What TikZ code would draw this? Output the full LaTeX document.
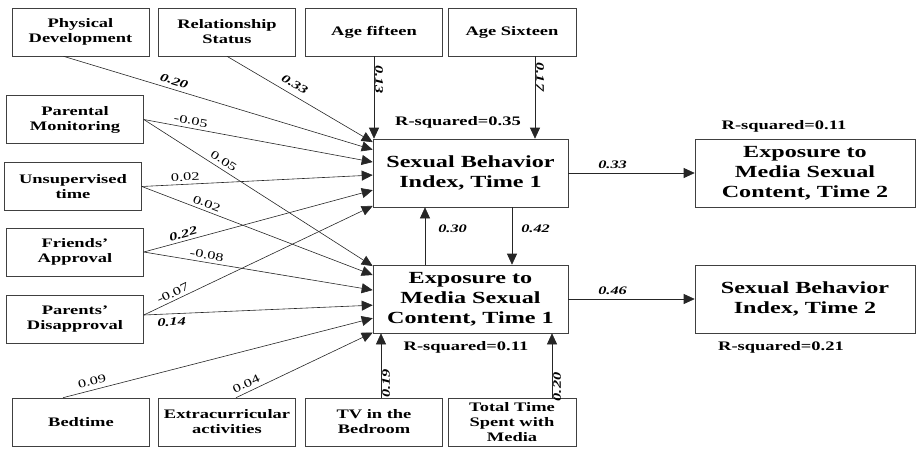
\documentclass[tikz,border=0pt]{standalone}
\usepackage{fontspec}
\setmainfont[FakeStretch=1.42]{Liberation Serif}
\usepackage{tikz}
\usetikzlibrary{positioning,arrows.meta,calc}
\newcommand\boxfont{\fontsize{13}{15}\selectfont\bfseries}
\newcommand\bigfont{\fontsize{17}{20}\selectfont\bfseries}
\tikzset{
  link/.style={-{Triangle[length=11pt,width=10pt]}, line width=0.6pt, draw=black!85},
  every node/.style={anchor=center}
}

\begin{document}
\begin{tikzpicture}[
    x=1pt, y=-1pt,
    box/.style={draw=black!75, line width=0.6pt, minimum width=137pt, minimum height=48pt,
      align=center, inner sep=2pt, font=\boxfont},
    bigbox/.style={box, minimum width=195pt, minimum height=68pt, font=\bigfont},
    coef/.style={font=\fontsize{11.5}{13}\selectfont\bfseries\itshape, inner sep=1pt},
    wcoef/.style={font=\fontsize{11.5}{13}\selectfont, inner sep=1pt},
    rsq/.style={font=\boxfont, inner sep=1pt}
  ]
  \useasboundingbox (0,0) rectangle (918,450);

  % top row
  \node[box] (phys)    at (80.5,32) {Physical\\Development};
  \node[box] (rel)     at (227,32)  {Relationship\\Status};
  \node[box] (agefift) at (374,32)  {Age fifteen};
  \node[box, minimum width=128pt] (agesix) at (512,32) {Age Sixteen};

  % left column
  \node[box] (parmon)  at (75,119.5) {Parental\\Monitoring};
  \node[box] (unsup)   at (73,186.5) {Unsupervised\\time};
  \node[box] (friends) at (75,252)   {Friends'\\Approval};
  \node[box] (parents) at (75,319)   {Parents'\\Disapproval};

  % bottom row
  \node[box] (bed)     at (81,422)  {Bedtime};
  \node[box] (extra)   at (227,422) {Extracurricular\\activities};
  \node[box] (tv)      at (374,422) {TV in the\\Bedroom};
  \node[box, minimum width=128pt] (total) at (512,422) {Total Time\\Spent with\\Media};

  % outcome boxes
  \node[bigbox] (sbone)  at (470.5,173) {Sexual Behavior\\Index, Time 1};
  \node[bigbox] (expone) at (470.5,299) {Exposure to\\Media Sexual\\Content, Time 1};
  \node[bigbox, minimum width=220pt] (exptwo) at (805,173) {Exposure to\\Media Sexual\\Content, Time 2};
  \node[bigbox, minimum width=220pt] (sbtwo)  at (805,299) {Sexual Behavior\\Index, Time 2};

  % r-squared
  \node[rsq] (rsbone)  at (458,122) {R-squared=0.35};
  \node[rsq] (rexptwo) at (784,126) {R-squared=0.11};
  \node[rsq] (rexpone) at (466,347) {R-squared=0.11};
  \node[rsq] (rsbtwo)  at (781,347) {R-squared=0.21};

  % paths into sexual behavior, time 1
  \draw[link] (rel.south) -- node[coef, pos=.43, sloped, above=5pt] {0.33}
    ($(sbone.north west)!.05!(sbone.south west)$);
  \draw[link] ([xshift=-17pt]phys.south) -- node[coef, pos=.35, sloped, above=3pt] {0.20}
    ($(sbone.north west)!.16!(sbone.south west)$);
  \draw[link] (parmon.east) -- node[wcoef, pos=.2, sloped, above=2pt] {-0.05}
    ($(sbone.north west)!.34!(sbone.south west)$);
  \draw[link] (unsup.east) -- node[wcoef, pos=.19, sloped, above=2pt] {0.02}
    ($(sbone.north west)!.53!(sbone.south west)$);
  \draw[link] (friends.east) -- node[coef, pos=.18, sloped, above=2pt] {0.22}
    ($(sbone.north west)!.75!(sbone.south west)$);
  \draw[link] ([yshift=4pt]parents.east) -- node[wcoef, pos=.14, sloped, above=2pt] {-0.07}
    ($(sbone.north west)!.98!(sbone.south west)$);

  % paths into exposure, time 1
  \draw[link] (parmon.east) -- node[wcoef, pos=.33, sloped, above=3pt] {0.05}
    ($(expone.north west)!.02!(expone.south west)$);
  \draw[link] (unsup.east) -- node[wcoef, pos=.27, sloped, above=2pt] {0.02}
    ($(expone.north west)!.15!(expone.south west)$);
  \draw[link] (friends.east) -- node[wcoef, pos=.27, sloped, above=2pt] {-0.08}
    ($(expone.north west)!.37!(expone.south west)$);
  \draw[link] ([yshift=4pt]parents.east) -- node[coef, pos=.12, sloped, below=3pt] {0.14}
    ($(expone.north west)!.59!(expone.south west)$);
  \draw[link] ([xshift=-18pt]bed.north) -- node[wcoef, pos=.1, sloped, above=3pt] {0.09}
    ($(expone.north west)!.78!(expone.south west)$);
  \draw[link] ([xshift=9pt]extra.north) -- node[wcoef, pos=.1, sloped, above=3pt] {0.04}
    ($(expone.north west)!.99!(expone.south west)$);

  % vertical paths
  \coordinate (sixfoot)  at ([xshift=23pt]agesix.south);
  \coordinate (tvtop)    at ([xshift=7pt]tv.north);
  \coordinate (totaltop) at ([xshift=40pt]total.north);
  \draw[link] (agefift.south) -- node[coef, pos=.33, rotate=-90, above=4pt] {0.13}
    (agefift.south |- sbone.north);
  \draw[link] (sixfoot) -- node[coef, pos=.3, rotate=-90, above=4pt] {0.17}
    (sixfoot |- sbone.north);
  \draw[link] (tvtop) -- node[coef, pos=.28, rotate=90, below=4pt] {0.19}
    (tvtop |- expone.south);
  \draw[link] (totaltop) -- node[coef, pos=.23, rotate=90, below=4pt] {0.20}
    (totaltop |- expone.south);

  % reciprocal paths
  \coordinate (upfoot)  at ([xshift=-45.5pt]expone.north);
  \coordinate (downtop) at ([xshift=41.5pt]sbone.south);
  \draw[link] (upfoot) -- node[coef, pos=.62, right=12pt] {0.30} (upfoot |- sbone.south);
  \draw[link] (downtop) -- node[coef, pos=.38, right=8pt] {0.42} (downtop |- expone.north);

  % time 2 paths
  \draw[link] (sbone.east) -- node[coef, pos=.35, above=3pt] {0.33} (exptwo.west);
  \draw[link] (expone.east) -- node[coef, pos=.35, above=3pt] {0.46} (sbtwo.west);

\end{tikzpicture}
\end{document}
